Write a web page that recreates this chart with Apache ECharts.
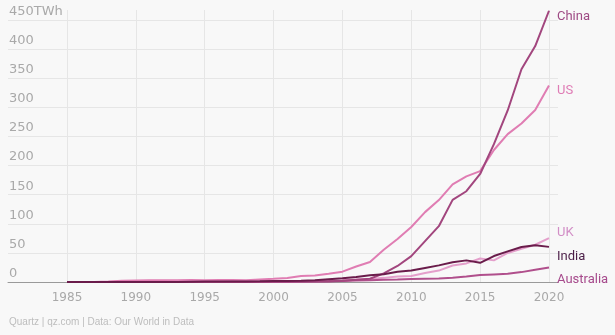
<!DOCTYPE html>
<html>
<head>
<meta charset="utf-8">
<script src="https://cdn.jsdelivr.net/npm/echarts@6/dist/echarts.min.js"></script>
<style>
  html, body { margin: 0; padding: 0; background: #f8f8f8; }
  #chart { width: 615px; height: 335px; }
</style>
</head>
<body>
<div id="chart"></div>
<script>
var years = [];
for (var y = 1985; y <= 2020; y++) years.push(y);

var yTicks = [0, 50, 100, 150, 200, 250, 300, 350, 400, 450];
var xTicks = [1985, 1990, 1995, 2000, 2005, 2010, 2015, 2020];

var china = [0, 0, 0, 0, 0, 0, 0, 0, 0, 0, 0.1, 0.2, 0.3, 0.4, 0.5, 0.6, 0.7, 0.8, 0.9, 1.3, 2.0, 3.7, 5.6, 14.8, 27.6, 44.6, 70.3, 96.0, 141.2, 156.1, 185.8, 237.1, 295.0, 365.8, 405.7, 466.5];
var us = [0.01, 0.01, 0.01, 0.9, 2.1, 2.79, 2.95, 2.89, 3.01, 3.45, 3.16, 3.23, 3.29, 3.03, 4.49, 5.59, 6.74, 10.35, 11.19, 14.14, 17.81, 26.59, 34.45, 55.36, 73.89, 94.65, 120.18, 140.82, 167.84, 181.66, 190.72, 226.99, 254.3, 272.67, 295.88, 337.94];
var uk = [0, 0, 0, 0, 0, 0.01, 0.01, 0.03, 0.22, 0.34, 0.39, 0.49, 0.67, 0.88, 0.85, 0.95, 0.96, 1.26, 1.28, 1.94, 2.9, 4.23, 5.27, 7.1, 9.3, 10.2, 15.5, 19.6, 28.4, 32.0, 40.3, 37.2, 49.9, 57.1, 64.1, 75.4];
var india = [0, 0, 0.01, 0.02, 0.03, 0.03, 0.06, 0.1, 0.2, 0.5, 0.8, 0.9, 1.0, 1.0, 1.2, 1.6, 1.7, 2.0, 3.2, 4.8, 6.3, 8.6, 11.8, 13.5, 17.6, 19.7, 24.2, 28.6, 33.8, 37.2, 33.0, 44.6, 52.7, 60.3, 63.3, 60.4];
var australia = [0, 0, 0, 0, 0, 0, 0, 0, 0, 0.01, 0.01, 0.01, 0.02, 0.03, 0.04, 0.06, 0.2, 0.36, 0.7, 1.0, 1.7, 2.6, 3.1, 3.9, 4.3, 5.1, 5.8, 6.1, 7.5, 9.3, 12.0, 13.0, 14.0, 17.0, 21.0, 25.0];

function pairs(vals) { return years.map(function (yr, i) { return [yr, vals[i]]; }); }

function line(name, vals, color, labelColor, dy) {
  return {
    name: name, type: 'line', xAxisIndex: 1, yAxisIndex: 1,
    data: pairs(vals), symbol: 'none', smooth: false,
    lineStyle: { color: color, width: 2 },
    itemStyle: { color: color },
    emphasis: { disabled: true },
    endLabel: {
      show: true, formatter: name, color: labelColor,
      fontFamily: 'Roboto', fontSize: 13, distance: 8, offset: [0, dy]
    }
  };
}

var chart = echarts.init(document.getElementById('chart'), null, { renderer: 'canvas' });
chart.setOption({
  backgroundColor: '#f8f8f8',
  animation: false,
  grid: [
    { left: 8, right: 57, top: 20, bottom: 53 },
    { left: 67, right: 66, top: 10, bottom: 53 }
  ],
  xAxis: [
    { gridIndex: 0, type: 'value', min: 0, max: 1,
      axisLine: { show: true, lineStyle: { color: '#9a9a9a', width: 1 } },
      axisTick: { show: false }, axisLabel: { show: false }, splitLine: { show: false } },
    { gridIndex: 1, type: 'value', min: xTicks[0], max: xTicks[xTicks.length - 1], interval: 5,
      axisLine: { show: false }, axisTick: { show: false },
      splitLine: { show: true, lineStyle: { color: '#e6e6e6', width: 1 } },
      axisLabel: { color: '#a9a9a9', fontFamily: 'DejaVu Sans', fontSize: 12, margin: 10,
        formatter: function (v) { return String(v); } } }
  ],
  yAxis: [
    { gridIndex: 0, type: 'value', min: yTicks[0], max: yTicks[yTicks.length - 1], interval: 50,
      axisLine: { show: false }, axisTick: { show: false },
      splitLine: { show: true, lineStyle: { color: '#e6e6e6', width: 1 } },
      axisLabel: { inside: true, margin: 1, verticalAlign: 'bottom', padding: [0, 0, 2, 0],
        color: '#a9a9a9', fontFamily: 'DejaVu Sans', fontSize: 13,
        formatter: function (v) { return v === 450 ? '450TWh' : String(v); } } },
    { gridIndex: 1, type: 'value', min: 0, max: 467.8, show: false }
  ],
  series: [
    line('US', us, '#e07db3', '#df7cb5', 5.5),
    line('UK', uk, '#e49fcb', '#d28ec6', -5),
    line('Australia', australia, '#b04f8c', '#a64a8c', 12.5),
    line('China', china, '#a2467e', '#9e4a84', 6),
    line('India', india, '#6a1c4b', '#4b1e47', 10)
  ],
  graphic: [
    { type: 'text', left: 9, top: 317,
      style: { text: 'Quartz | qz.com | Data: Our World in Data', fill: '#bdbdbd',
        font: '10px "Liberation Sans", Arial, sans-serif' } }
  ]
});
</script>
</body>
</html>
